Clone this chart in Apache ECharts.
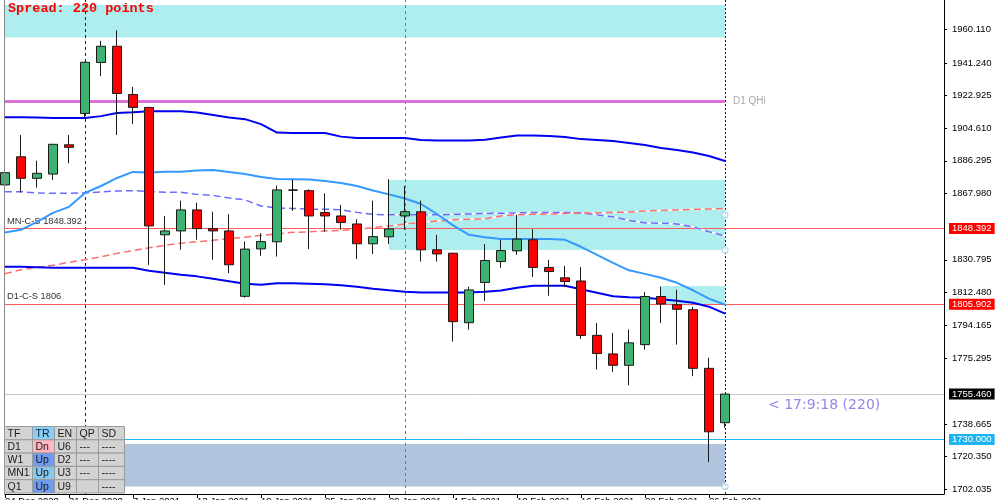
<!DOCTYPE html>
<html><head><meta charset="utf-8">
<script src="https://cdn.jsdelivr.net/npm/echarts@6/dist/echarts.min.js"></script>
<style>html,body{margin:0;padding:0;background:#fff}#c{width:1000px;height:500px}</style>
</head><body><div id="c"></div>
<script>
// ---- data ----
const dateLabels = ["24 Dec 2020","31 Dec 2020","7 Jan 2021","13 Jan 2021","19 Jan 2021","25 Jan 2021","29 Jan 2021","4 Feb 2021","10 Feb 2021","16 Feb 2021","22 Feb 2021","26 Feb 2021"];
const dateTickIdx = [0,4,8,12,16,20,24,28,32,36,40,44];
const opens  = [1872.8,1888.6,1876.5,1878.9,1895.3,1912.9,1941.5,1950.6,1923.5,1916.3,1844.8,1847.0,1858.8,1848.3,1847.0,1810.3,1836.9,1840.9,1869.9,1869.6,1857.3,1855.4,1850.9,1839.8,1843.7,1855.4,1857.7,1836.4,1834.5,1795.5,1818.1,1829.8,1835.8,1842.0,1826.5,1820.7,1818.9,1788.4,1778.0,1771.6,1783.2,1810.2,1805.6,1802.8,1769.9,1739.4];
const closes = [1879.7,1876.5,1879.3,1895.6,1893.9,1941.6,1950.6,1924.1,1916.3,1849.8,1847.0,1858.8,1848.3,1847.0,1828.0,1836.8,1841.0,1870.0,1869.9,1855.4,1855.4,1851.7,1839.8,1843.8,1848.1,1857.8,1836.4,1834.1,1796.1,1813.9,1830.4,1836.0,1842.4,1826.5,1824.2,1818.6,1788.3,1778.2,1771.6,1784.2,1810.2,1806.0,1803.0,1769.9,1734.3,1755.46];
const lows   = [1868.9,1868.5,1871.3,1875.6,1884.9,1910.3,1933.8,1900.8,1906.9,1828.0,1816.8,1836.4,1842.0,1830.8,1823.3,1809.5,1833.0,1832.6,1858.4,1836.8,1846.6,1847.6,1831.2,1834.0,1839.7,1847.6,1829.8,1829.8,1784.9,1791.6,1807.8,1826.3,1833.6,1821.1,1810.6,1815.5,1786.4,1769.2,1767.9,1760.4,1780.4,1795.3,1783.2,1765.5,1717.3,1736.6];
const highs  = [1886.8,1900.8,1886.4,1895.8,1900.8,1942.0,1953.6,1959.5,1927.8,1916.5,1855.4,1864.0,1862.9,1857.8,1856.4,1841.0,1845.7,1872.4,1875.6,1870.4,1868.1,1861.6,1853.6,1864.0,1876.0,1872.2,1864.0,1844.8,1834.7,1815.7,1839.6,1842.0,1856.0,1848.0,1830.8,1827.4,1826.7,1795.3,1789.8,1791.6,1812.7,1815.8,1814.0,1804.3,1775.8,1755.46];
const upperBand = [1910.8,1910.8,1910.6,1910.3,1910.3,1910.3,1911.4,1913.1,1913.6,1914.2,1914.2,1914.2,1913.4,1912.0,1910.6,1909.7,1906.9,1902.2,1901.9,1901.9,1901.9,1899.9,1899.1,1899.1,1899.1,1899.1,1898.0,1897.7,1897.7,1897.7,1898.2,1899.4,1900.5,1900.5,1900.2,1899.7,1898.5,1898.0,1897.4,1896.3,1895.2,1893.5,1892.4,1891.0,1889.0,1886.2];
const lowerBand = [1826.9,1826.9,1826.6,1826.3,1826.3,1826.3,1826.3,1826.3,1826.3,1824.6,1823.5,1822.4,1821.5,1820.2,1818.8,1817.4,1816.8,1817.6,1817.6,1817.4,1817.1,1816.5,1815.7,1814.6,1813.7,1812.9,1812.5,1812.5,1812.5,1812.5,1812.9,1813.6,1815.1,1816.2,1816.2,1816.2,1814.3,1812.3,1810.4,1809.8,1809.5,1808.7,1807.8,1806.7,1804.5,1800.6];
const fastMA = [1846.1,1847.6,1852.1,1857.1,1860.5,1868.3,1872.2,1876.7,1880.1,1879.8,1880.2,1880.2,1880.9,1881.2,1880.1,1878.9,1877.3,1876.1,1876.0,1875.9,1875.0,1873.9,1872.2,1869.7,1867.5,1865.2,1862.1,1856.5,1850.1,1844.8,1843.5,1842.4,1842.4,1842.4,1842.4,1842.0,1838.1,1833.6,1829.1,1824.9,1822.9,1820.7,1817.9,1813.7,1809.0,1805.6];
const blueDashed = [1869.0,1869.0,1868.3,1868.1,1868.1,1868.3,1868.9,1869.4,1869.6,1869.1,1868.7,1868.7,1867.5,1866.9,1865.5,1864.4,1861.0,1859.9,1859.6,1859.2,1859.2,1858.8,1857.4,1856.3,1856.0,1856.0,1856.0,1856.0,1856.3,1856.5,1856.8,1856.9,1857.1,1857.3,1857.3,1857.3,1857.1,1856.0,1854.9,1852.9,1851.5,1851.3,1850.9,1849.3,1846.5,1844.2];
const redDashed = [1823.0,1825.2,1826.6,1827.7,1829.4,1830.8,1832.5,1834.4,1836.0,1837.5,1838.9,1840.1,1840.9,1841.7,1842.7,1843.4,1844.5,1845.3,1846.2,1846.5,1847.0,1847.3,1847.9,1848.9,1849.8,1850.9,1851.8,1852.6,1853.2,1853.6,1853.8,1855.4,1856.0,1856.3,1856.5,1856.8,1857.1,1857.1,1857.4,1857.6,1858.2,1858.5,1858.8,1859.1,1859.3,1859.6];
const yTickValues = [1960.110,1941.240,1922.925,1904.610,1886.295,1867.980,1830.795,1812.480,1794.165,1775.295,1738.665,1720.350,1702.035];
const zoneStarts  = [0, 24, 41, 0];
const zoneTops    = [1973.7, 1875.6, 1816.1, 1727.5];
const zoneBottoms = [1955.5, 1836.3, 1806.0, 1703.6];
const zoneEnd = 45;
const anchorPrices = [1855.9, 1836.3, 1703.6];
const separators = [5, 25, 45];
const mnLevel = 1848.392, d1Level = 1805.902, bidPrice = 1755.46, lowLevel = 1730.000, d1QHi = 1919.5;
const tableRows = [["TF","TR","EN","QP","SD"],["D1","Dn","U6","---","----"],["W1","Up","D2","---","----"],["MN1","Up","U3","---","----"],["Q1","Up","U9","","----"]];
const spreadText = "Spread: 220 points";
const timerText = "< 17:9:18 (220)";

// ---- styles ----
const zoneColors = ['#AFEEEE','#AFEEEE','#AFEEEE','#B0C4DE'];
const sepStyles = [{color:'#222',type:[3,3]},{color:'#777',type:[3,3]},{color:'#222',type:[2,2]}];
const trFills = ['#87CEFA','#FFB6C1','#6F9CF0','#87C8F0','#6F9CF0'];

const xy = arr => arr.map((v, i) => [i, v]);
const candleData = opens.map((o, i) => [i, o, closes[i], lows[i], highs[i]]);

const tableEls = [];
(function(){
  const colW = [28,22,22,22,26], rowH = 13.3, x0 = 4.5, y0 = 426.5;
  let y = y0;
  tableRows.forEach((row, r) => {
    let x = x0;
    row.forEach((cell, c) => {
      tableEls.push({type:'rect', z:100, shape:{x:x, y:y, width:colW[c], height:rowH},
        style:{fill: c === 1 ? trFills[r] : '#D3D3D3', stroke:'#9a9a9a', lineWidth:1}});
      tableEls.push({type:'text', z:101, x: x + 3, y: y + rowH/2 + 0.5,
        style:{text: cell, fill:'#1a1a1a', font:'10.5px "Liberation Sans"', verticalAlign:'middle', align:'left'}});
      x += colW[c];
    });
    y += rowH;
  });
})();

const chart = echarts.init(document.getElementById('c'), null, {renderer:'canvas'});
const dashedLine = (data, color) => [
  {type:'line', data: xy(data), showSymbol:false, z:7, silent:true, lineStyle:{color:'#ffffff', width:1.5}},
  {type:'line', data: xy(data), showSymbol:false, z:8, silent:true, lineStyle:{color:color, width:1.5, type:[7,4]}}
];
const sideLabel = (val, text) => ({yAxis: val, lineStyle:{color:'rgba(0,0,0,0)', width:0.1},
  label:{show:true, position:'insideStartTop', distance:[2,3], formatter:text, color:'#333', fontFamily:'Liberation Sans', fontSize:9.3}});
const option = {
  animation: false,
  title: {text: spreadText, left: 8, top: 2, padding: 0,
    textStyle: {color:'#FF0000', fontFamily:'Liberation Mono', fontWeight:'bold', fontSize:13.5}},
  grid: {left: 5, right: 56, top: 0, bottom: 6, outerBoundsMode: 'none', containLabel: false},
  xAxis: {type:'value', min: 0, max: 58.6875,
    axisLine:{show:true, onZero:false, lineStyle:{color:'#000', width:1}},
    axisTick:{show:true, customValues: dateTickIdx, length:4, lineStyle:{color:'#000'}},
    axisLabel:{show:true, customValues: dateTickIdx, align:'left', margin:2,
      fontFamily:'Liberation Sans', fontSize:9.5, color:'#000',
      formatter: v => dateLabels[dateTickIdx.indexOf(Math.round(v))] || ''},
    splitLine:{show:false}},
  yAxis: {type:'value', position:'right', min: 1699.4, max: 1976.55,
    axisLine:{show:true, onZero:false, lineStyle:{color:'#000', width:1}},
    axisTick:{show:true, inside:false, customValues: yTickValues, length:3, lineStyle:{color:'#000'}},
    axisLabel:{show:true, customValues: yTickValues, margin:8, fontFamily:'Liberation Sans', fontSize:9.5, color:'#000',
      formatter: v => v.toFixed(3)},
    splitLine:{show:false}},
  graphic: tableEls.concat([
    {type:'line', z:50, shape:{x1:4.5, y1:0, x2:4.5, y2:494}, style:{stroke:'#888', lineWidth:1}},
    {type:'text', z:50, x:768, y:405, style:{text: timerText, fill:'#9088E6', font:'14px "DejaVu Sans"', verticalAlign:'middle'}}
  ]),
  series: [
    {type:'line', data: [], silent:true, z:1,
      markArea: {silent:true, z:1, data: zoneStarts.map((s, k) => [
        {coord:[s, zoneTops[k]], itemStyle:{color: zoneColors[k]}},
        {coord:[zoneEnd, zoneBottoms[k]]}])},
      markLine: {silent:true, z:3, symbol:'none', animation:false,
        data: [
          ...separators.map((s, k) => ({xAxis: s, lineStyle:{color: sepStyles[k].color, type: sepStyles[k].type, width:1}, label:{show:false}})),
          [{coord:[0, d1QHi], lineStyle:{color:'#DA70D6', width:3, type:'solid'},
            label:{show:true, position:'end', distance:8, formatter:'D1 QHi', color:'#A8A8A8', fontFamily:'Liberation Sans', fontSize:10}},
           {coord:[zoneEnd, d1QHi]}],
          {yAxis: mnLevel, lineStyle:{color:'#FF5A5A', width:1, type:'solid'},
            label:{show:true, position:'end', distance:5, formatter: mnLevel.toFixed(3), color:'#fff', backgroundColor:'#FF0000', padding:[1,3], lineHeight:9, fontFamily:'Liberation Sans', fontSize:9.5}},
          {yAxis: d1Level, lineStyle:{color:'#FF5A5A', width:1, type:'solid'},
            label:{show:true, position:'end', distance:5, formatter: d1Level.toFixed(3), color:'#fff', backgroundColor:'#FF0000', padding:[1,3], lineHeight:9, fontFamily:'Liberation Sans', fontSize:9.5}},
          {yAxis: bidPrice, lineStyle:{color:'#C8C8C8', width:1, type:'solid'},
            label:{show:true, position:'end', distance:5, formatter: bidPrice.toFixed(3), color:'#fff', backgroundColor:'#000', padding:[1,3], lineHeight:9, fontFamily:'Liberation Sans', fontSize:9.5}},
          {yAxis: lowLevel, lineStyle:{color:'#1EB4F0', width:1, type:'solid'},
            label:{show:true, position:'end', distance:5, formatter: lowLevel.toFixed(3), color:'#fff', backgroundColor:'#1EB4F0', padding:[1,3], lineHeight:9, fontFamily:'Liberation Sans', fontSize:9.5}}
        ]}},
    {type:'line', data: [], silent:true, z:4,
      markLine: {silent:true, z:4, symbol:'none', animation:false,
        data: [sideLabel(mnLevel, 'MN-C-S ' + mnLevel.toFixed(3)), sideLabel(d1Level, 'D1-C-S ' + Math.round(d1Level))]}},
    ...dashedLine(blueDashed, '#6A6AFF'),
    ...dashedLine(redDashed, '#FF6B6B'),
    {type:'line', data: xy(upperBand), showSymbol:false, z:8, silent:true, lineStyle:{color:'#0000F0', width:2}},
    {type:'line', data: xy(lowerBand), showSymbol:false, z:8, silent:true, lineStyle:{color:'#0000F0', width:2}},
    {type:'line', data: xy(fastMA), showSymbol:false, z:8, silent:true, lineStyle:{color:'#3399FF', width:2}},
    {type:'candlestick', data: candleData, encode:{x:0, y:[1,2,3,4]}, z:10, barWidth:10, clip:true, silent:true,
      itemStyle:{color:'#3CB371', color0:'#FF0000', borderColor:'#1a1a1a', borderColor0:'#1a1a1a', borderColorDoji:'#000', borderWidth:1}},
    {type:'scatter', data: anchorPrices.map(p => [zoneEnd, p]), z:12, silent:true, symbol:'circle', symbolSize:6,
      itemStyle:{color:'#ffffff', borderColor:'#A8D0EC', borderWidth:1.2}}
  ]
};
chart.setOption(option);
</script></body></html>
